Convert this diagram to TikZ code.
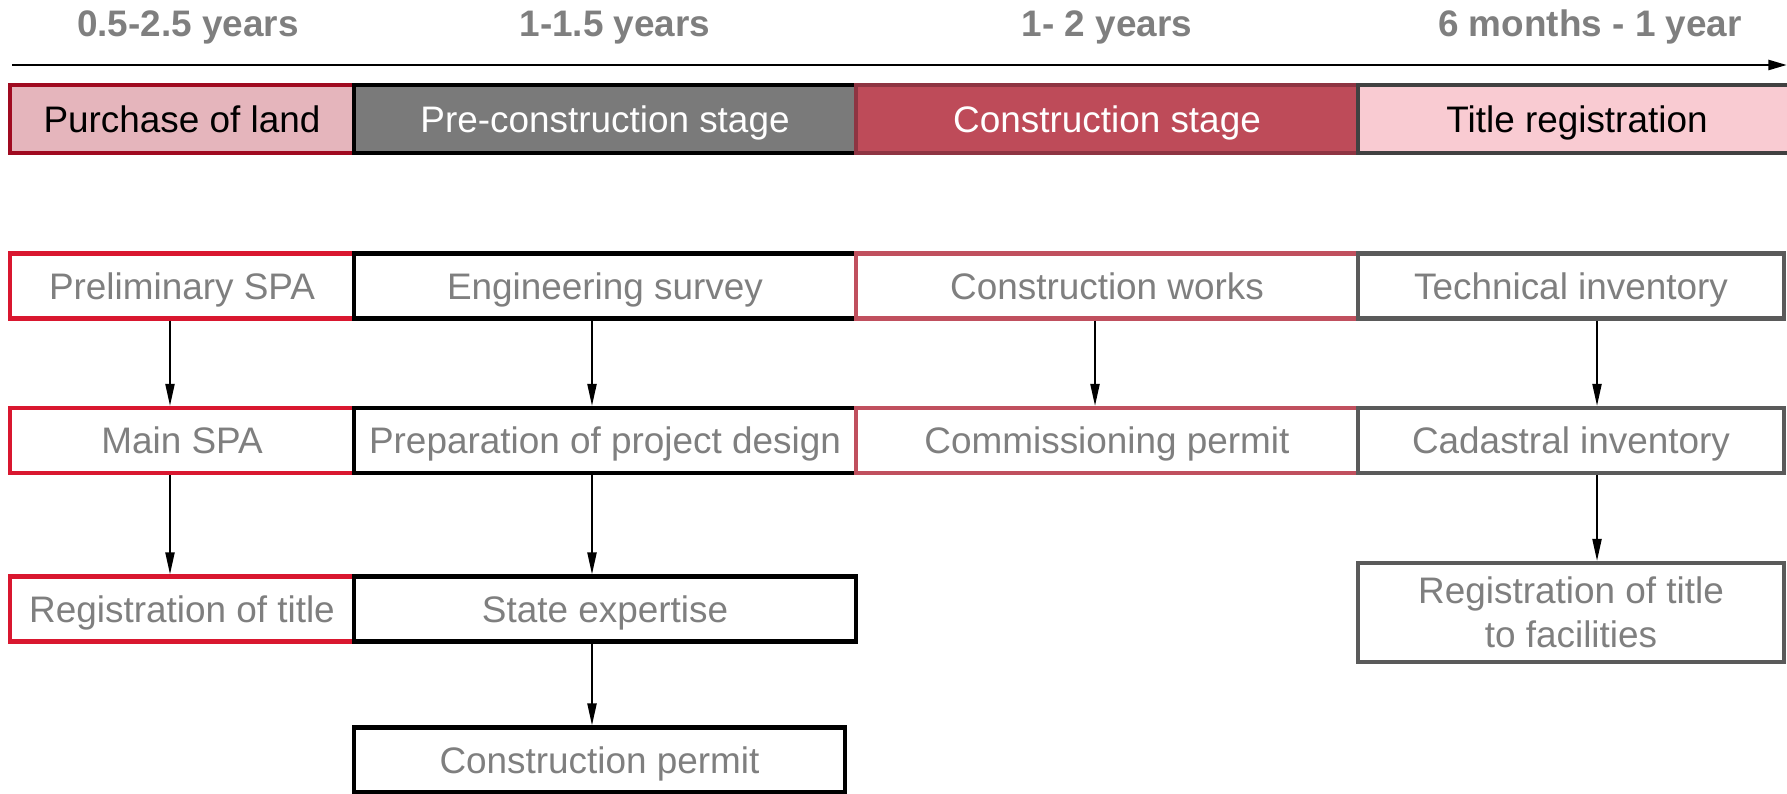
\documentclass[tikz,border=0pt]{standalone}
\usepackage{fontspec}
\setmainfont{Liberation Sans}
\usetikzlibrary{arrows.meta}

\definecolor{landfill}{HTML}{E5B5BC}
\definecolor{landline}{HTML}{A00A20}
\definecolor{prefill}{HTML}{7A7A7A}
\definecolor{consfill}{HTML}{BE4B59}
\definecolor{consline}{HTML}{8E3442}
\definecolor{titlefill}{HTML}{F9CBD2}
\definecolor{titleline}{HTML}{414141}
\definecolor{landbox}{HTML}{D9172F}
\definecolor{consbox}{HTML}{C0505E}
\definecolor{titlebox}{HTML}{5A5A5A}
\definecolor{labelgray}{HTML}{7F7F7F}

\tikzset{
	stage/.style={draw, line width=1.2pt, minimum height=0.68cm, inner sep=0pt,
		text height=7.6pt, text depth=0.2pt,
		font=\fontsize{10.5}{12.5}\selectfont},
	task/.style={draw, fill=white, line width=1.2pt, minimum height=0.65cm, inner sep=0pt,
		text height=7.6pt, text depth=0.2pt,
		text=labelgray, align=center, font=\fontsize{10.5}{12.5}\selectfont},
	period/.style={anchor=base, text=labelgray, font=\fontsize{10.5}{12.5}\selectfont\bfseries},
	flow/.style={-{Triangle[length=6.3pt,width=2.6pt]}, line width=0.55pt},
	timeline/.style={-{Triangle[length=5.3pt,width=2.8pt]}, line width=0.8pt}
}

\begin{document}
\begin{tikzpicture}

	% ---- frame

	\useasboundingbox (0,0) rectangle (17.87,-7.94);
	\clip (0,0) rectangle (17.87,-7.94);

	% ---- coordinates

	\coordinate (tstart) at (0.12,-0.65);
	\coordinate (tend) at (17.87,-0.65);

	\coordinate (c1) at (1.70,0);
	\coordinate (c2) at (5.92,0);
	\coordinate (c3) at (10.95,0);
	\coordinate (c4) at (15.97,0);

	% ---- periods

	\node[period] (p1) at (1.88,-0.37) {0.5-2.5 years};
	\node[period] (p2) at (6.15,-0.37) {1-1.5 years};
	\node[period] (p3) at (11.07,-0.37) {1- 2 years};
	\node[period] (p4) at (15.90,-0.37) {6 months - 1 year};

	% ---- timeline

	\draw[timeline] (tstart) -- (tend);

	% ---- stages

	\node[stage, fill=landfill, draw=landline, minimum width=3.44cm] (purchase) at (1.82,-1.19) {Purchase of land};
	\node[stage, fill=prefill, draw=black, text=white, minimum width=5.02cm] (prestage) at (6.05,-1.19) {Pre-construction stage};
	\node[stage, fill=consfill, draw=consline, text=white, minimum width=5.02cm] (constage) at (11.07,-1.19) {Construction stage};
	\node[stage, fill=titlefill, draw=titleline, minimum width=4.38cm] (titlereg) at (15.77,-1.19) {Title registration};

	% ---- purchase of land

	\node[task, draw=landbox, minimum width=3.44cm] (prelim) at (1.82,-2.86) {Preliminary SPA};
	\node[task, draw=landbox, minimum width=3.44cm] (mainspa) at (1.82,-4.405) {Main SPA};
	\node[task, draw=landbox, minimum width=3.44cm] (regtitle) at (1.82,-6.09) {Registration of title};

	% ---- pre-construction

	\node[task, draw=black, minimum width=5.02cm] (survey) at (6.05,-2.86) {Engineering survey};
	\node[task, draw=black, minimum width=5.02cm] (design) at (6.05,-4.405) {Preparation of project design};
	\node[task, draw=black, minimum width=5.02cm] (expertise) at (6.05,-6.09) {State expertise};
	\node[task, draw=black, minimum width=4.91cm] (permit) at (5.995,-7.60) {Construction permit};

	% ---- construction

	\node[task, draw=consbox, minimum width=5.02cm] (works) at (11.07,-2.86) {Construction works};
	\node[task, draw=consbox, minimum width=5.02cm] (commission) at (11.07,-4.405) {Commissioning permit};

	% ---- title registration

	\node[task, draw=titlebox, minimum width=4.26cm] (techinv) at (15.71,-2.86) {Technical inventory};
	\node[task, draw=titlebox, minimum width=4.26cm] (cadinv) at (15.71,-4.405) {Cadastral inventory};
	\node[task, draw=titlebox, minimum width=4.26cm, minimum height=0.99cm,
		text height={}, text depth={}] (regfac) at (15.71,-6.125) {Registration of title\\to facilities};

	% ---- arrows

	\draw[flow] (prelim.south -| c1) -- (mainspa.north -| c1);
	\draw[flow] (mainspa.south -| c1) -- (regtitle.north -| c1);

	\draw[flow] (survey.south -| c2) -- (design.north -| c2);
	\draw[flow] (design.south -| c2) -- (expertise.north -| c2);
	\draw[flow] (expertise.south -| c2) -- (permit.north -| c2);

	\draw[flow] (works.south -| c3) -- (commission.north -| c3);

	\draw[flow] (techinv.south -| c4) -- (cadinv.north -| c4);
	\draw[flow] (cadinv.south -| c4) -- (regfac.north -| c4);

\end{tikzpicture}
\end{document}
